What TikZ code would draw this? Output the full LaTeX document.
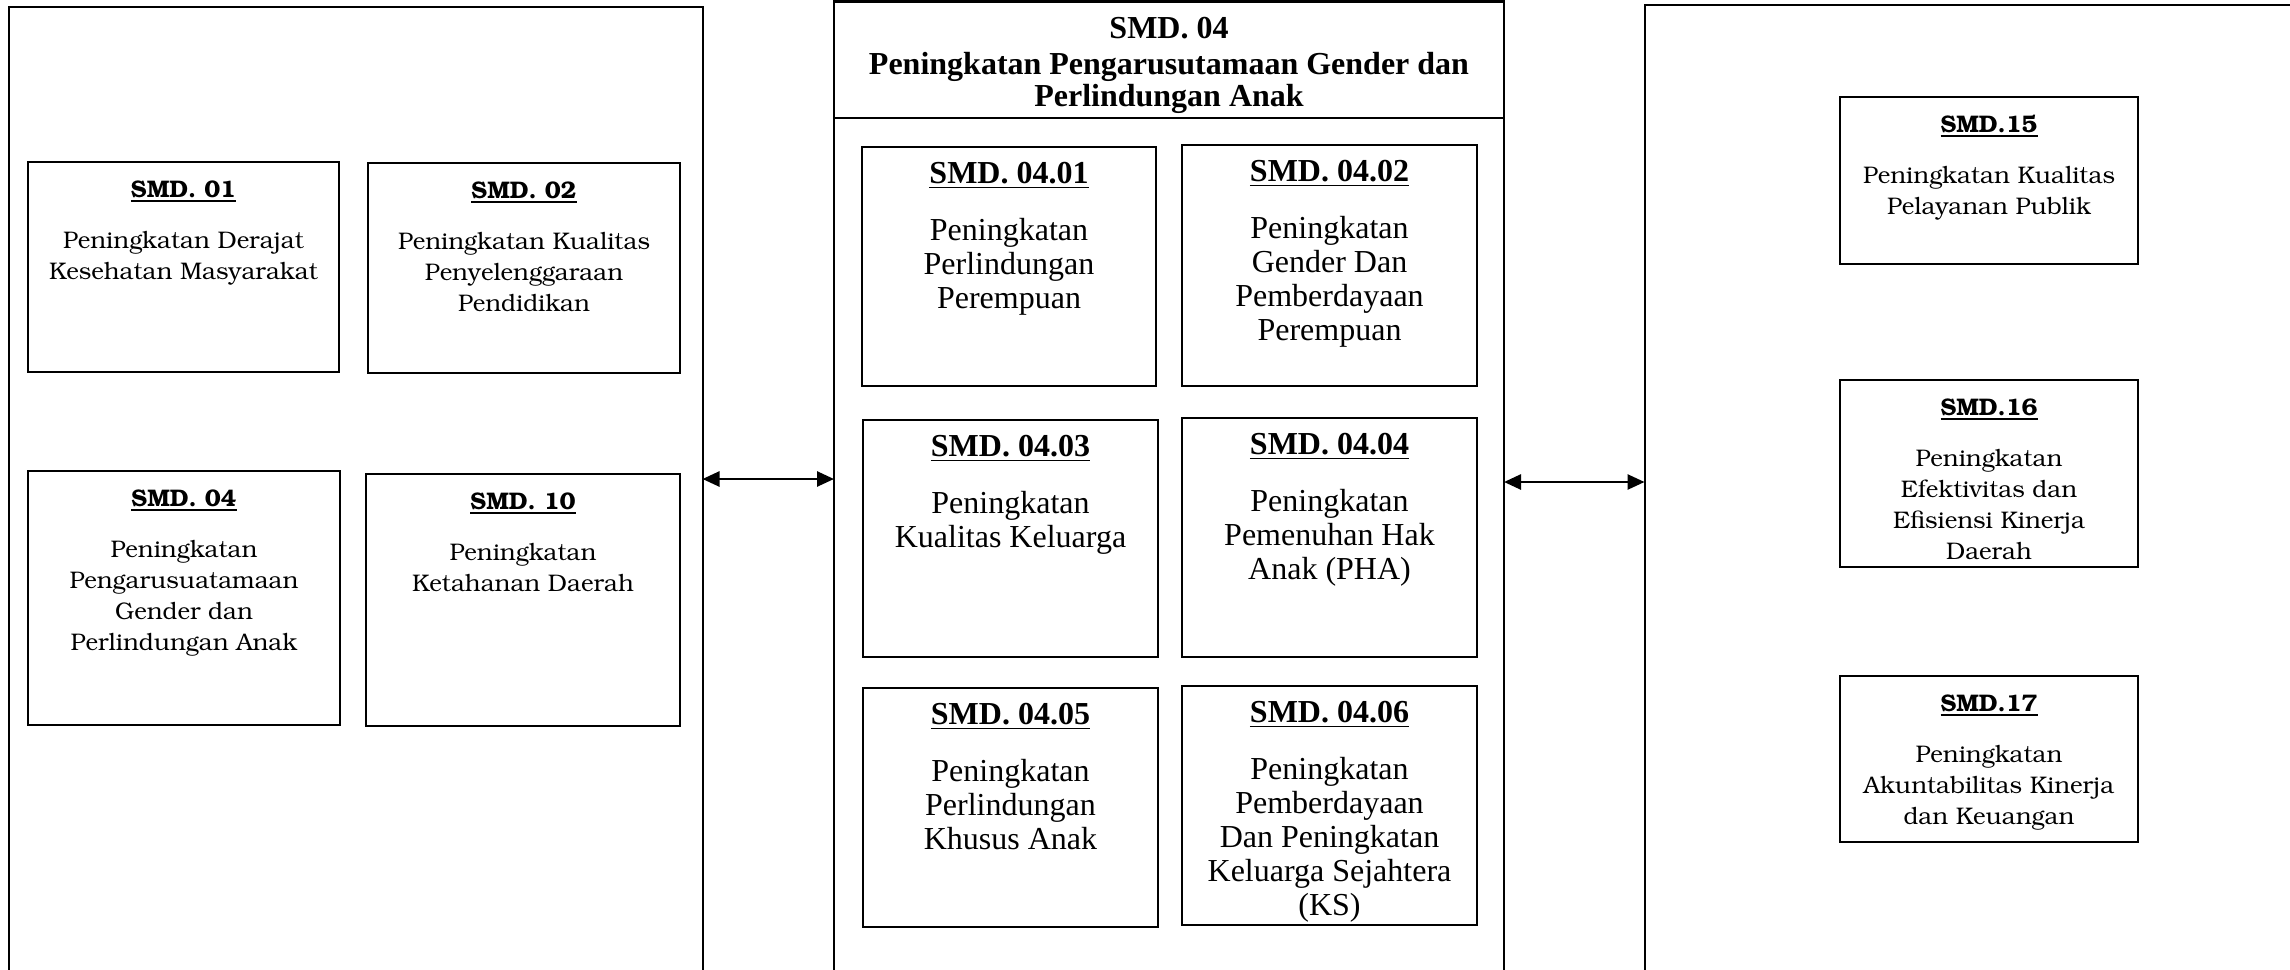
\documentclass[tikz,border=0pt]{standalone}
\usepackage[T1]{fontenc}
\usepackage{fontspec}
\newfontfamily\tms{Liberation Serif}
\newcommand\bkm{\fontencoding{T1}\fontfamily{pbk}\selectfont}
\usetikzlibrary{arrows.meta,calc}
% underlined box title
\newcommand\ttl[1]{\setbox0\hbox{#1}\rlap{\rule[-2.3pt]{\wd0}{0.85pt}}\box0}
% framed box given by its corners (in px units)
\newcommand\smdnode[5]{%
  \node[smdbox, minimum width={(#4-#2)*0.5pt}, minimum height={(#5-#3)*0.5pt}] (#1) at (#2,#3) {};}
\tikzset{
  smdbox/.style={draw, line width=1pt, anchor=north west, inner sep=0pt, outer sep=0pt},
  bktext/.style={anchor=north, align=center, inner sep=0pt, font=\bkm\fontsize{12}{15.5}\selectfont},
  tmtext/.style={anchor=north, align=center, inner sep=0pt, font=\tms\fontsize{16}{17}\selectfont},
  link/.style={{Triangle[length=8.5pt,width=7.5pt]}-{Triangle[length=8.5pt,width=7.5pt]}, line width=1.3pt},
}
\begin{document}
\begin{tikzpicture}[x=0.5pt,y=-0.5pt]
\useasboundingbox (0,0) rectangle (2290,969);
\clip (0,0) rectangle (2290,969);
\fill[white] (0,0) rectangle (2290,969);

% three panels
\smdnode{lp}{8.5}{7}{702.5}{1100}
\smdnode{mp}{834}{1.5}{1504}{1100}
\smdnode{hdr}{834}{1.5}{1504}{118}
\smdnode{rp}{1644.5}{4.5}{2400}{1100}

\node[tmtext, font=\tms\bfseries\fontsize{16}{16}\selectfont] (hdrt) at ([yshift=-7.6pt]hdr.north)
  {SMD. 04\\[2.3pt]Peningkatan Pengarusutamaan Gender dan\\Perlindungan Anak};

% left panel
\smdnode{b01}{28}{162}{339}{372}
\smdnode{b02}{368}{163}{680}{373}
\smdnode{b04}{28}{471}{340}{725}
\smdnode{b10}{366}{474}{680}{726}
\node[bktext] (t01) at ([yshift=-9pt]b01.north) {\ttl{\bfseries SMD. 01}\\[10pt]Peningkatan Derajat\\Kesehatan Masyarakat};
\node[bktext] (t02) at ([yshift=-9pt]b02.north) {\ttl{\bfseries SMD. 02}\\[10pt]Peningkatan Kualitas\\Penyelenggaraan\\Pendidikan};
\node[bktext] (t04) at ([yshift=-9pt]b04.north) {\ttl{\bfseries SMD. 04}\\[10pt]Peningkatan\\Pengarusuatamaan\\Gender dan\\Perlindungan Anak};
\node[bktext] (t10) at ([yshift=-9pt]b10.north) {\ttl{\bfseries SMD. 10}\\[10pt]Peningkatan\\Ketahanan Daerah};

% middle panel
\smdnode{m01}{862}{147}{1156}{386}
\smdnode{m02}{1182}{145}{1477}{386}
\smdnode{m03}{863}{420}{1158}{657}
\smdnode{m04}{1182}{418}{1477}{657}
\smdnode{m05}{863}{688}{1158}{927}
\smdnode{m06}{1182}{686}{1477}{925}
\node[tmtext] (n01) at ([yshift=-7.6pt]m01.north) {\ttl{\bfseries SMD. 04.01}\\[11.5pt]Peningkatan\\Perlindungan\\Perempuan};
\node[tmtext] (n02) at ([yshift=-7.6pt]m02.north) {\ttl{\bfseries SMD. 04.02}\\[11.5pt]Peningkatan\\Gender Dan\\Pemberdayaan\\Perempuan};
\node[tmtext] (n03) at ([yshift=-7.6pt]m03.north) {\ttl{\bfseries SMD. 04.03}\\[11.5pt]Peningkatan\\Kualitas Keluarga};
\node[tmtext] (n04) at ([yshift=-7.6pt]m04.north) {\ttl{\bfseries SMD. 04.04}\\[11.5pt]Peningkatan\\Pemenuhan Hak\\Anak (PHA)};
\node[tmtext] (n05) at ([yshift=-7.6pt]m05.north) {\ttl{\bfseries SMD. 04.05}\\[11.5pt]Peningkatan\\Perlindungan\\Khusus Anak};
\node[tmtext] (n06) at ([yshift=-7.6pt]m06.north) {\ttl{\bfseries SMD. 04.06}\\[11.5pt]Peningkatan\\Pemberdayaan\\Dan Peningkatan\\Keluarga Sejahtera\\(KS)};

% right panel
\smdnode{r15}{1840}{97}{2138}{264}
\smdnode{r16}{1840}{380}{2138}{567}
\smdnode{r17}{1840}{676}{2138}{842}
\node[bktext] (t15) at ([yshift=-9pt]r15.north) {\ttl{\bfseries SMD.15}\\[10pt]Peningkatan Kualitas\\Pelayanan Publik};
\node[bktext] (t16) at ([yshift=-9pt]r16.north) {\ttl{\bfseries SMD.16}\\[10pt]Peningkatan\\Efektivitas dan\\Efisiensi Kinerja\\Daerah};
\node[bktext] (t17) at ([yshift=-9pt]r17.north) {\ttl{\bfseries SMD.17}\\[10pt]Peningkatan\\Akuntabilitas Kinerja\\dan Keuangan};

% links between panels
\coordinate (aL) at (768,479);
\coordinate (aR) at (1574,482);
\draw[link] (lp.east |- aL) -- (mp.west |- aL);
\draw[link] (mp.east |- aR) -- (rp.west |- aR);
\end{tikzpicture}
\end{document}
